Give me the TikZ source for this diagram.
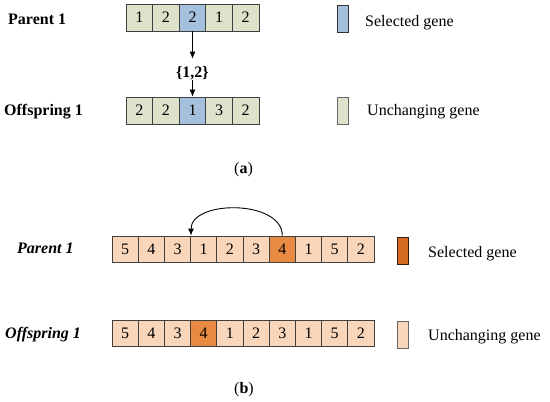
\documentclass[tikz,border=0pt]{standalone}
\usepackage{fontspec}
\setmainfont{Liberation Serif}
\usetikzlibrary{arrows.meta,positioning}
\definecolor{keepA}{HTML}{DDE2CB}
\definecolor{pickA}{HTML}{A5C0DD}
\definecolor{keepB}{HTML}{F9D6BA}
\definecolor{pickB}{HTML}{E98A43}
\definecolor{legB}{HTML}{D36C20}
\definecolor{edge}{HTML}{404040}

\begin{document}
\begin{tikzpicture}[
    x=1pt, y=1pt,
    font=\fontsize{16}{19}\selectfont,
    gene/.style={draw=edge, line width=0.8pt, inner sep=0pt, minimum width=26.6pt, minimum height=27pt},
    geneb/.style={gene, minimum width=26.2pt, minimum height=26pt},
    keepa/.style={fill=keepA}, picka/.style={fill=pickA},
    keepb/.style={fill=keepB}, pickb/.style={fill=pickB},
    legend/.style={draw=edge, line width=0.9pt, inner sep=0pt, minimum width=11pt, minimum height=27pt},
    tag/.style={anchor=base west, inner sep=0pt},
    arrow/.style={-{Latex[length=7pt,width=6pt]}, line width=0.9pt}
]
\useasboundingbox (0,0) rectangle (550,-402);
% (a)
\foreach \v/\c [count=\i] in {1/keepa,2/keepa,2/picka,1/keepa,2/keepa}
  \node[gene,\c] (pa\i) at ({126+(\i-0.5)*26.6},-17.5) {\v};
\foreach \v/\c [count=\i] in {2/keepa,2/keepa,1/picka,3/keepa,2/keepa}
  \node[gene,\c] (oa\i) at ({126+(\i-0.5)*26.6},-110.5) {\v};
\node[tag, font=\fontsize{16}{19}\selectfont\bfseries] (parenta) at (8,-24) {Parent 1};
\node[tag, font=\fontsize{16}{19}\selectfont\bfseries] (offa) at (4,-115) {Offspring 1};
\node[anchor=base, inner sep=0pt, font=\fontsize{16}{19}\selectfont\bfseries] (set) at (192.5,-77) {\{1,2\}};
\draw[arrow, shorten >=7pt] (pa3) -- (set);
\draw[arrow] (set) -- (oa3);
\node[legend, fill=pickA, draw=black!80] (lsela) at (343,-18.5) {};
\node[tag] (tsela) at (365,-26) {Selected gene};
\node[legend, fill=keepA, draw=black!60] (lkeepa) at (343,-110.5) {};
\node[tag] (tkeepa) at (367,-115) {Unchanging gene};
\node[anchor=base] (capa) at (243.5,-173) {(\textbf{a})};
% (b)
\foreach \v/\c [count=\i] in {5/keepb,4/keepb,3/keepb,1/keepb,2/keepb,3/keepb,4/pickb,1/keepb,5/keepb,2/keepb}
  \node[geneb,\c] (pb\i) at ({112+(\i-0.5)*26.2},-249) {\v};
\foreach \v/\c [count=\i] in {5/keepb,4/keepb,3/keepb,4/pickb,1/keepb,2/keepb,3/keepb,1/keepb,5/keepb,2/keepb}
  \node[geneb,\c] (ob\i) at ({112+(\i-0.5)*26.2},-333) {\v};
\node[tag, font=\fontsize{16}{19}\selectfont\bfseries\itshape] (parentb) at (17,-253.5) {Parent 1};
\node[tag, font=\fontsize{16}{19}\selectfont\bfseries\itshape] (offb) at (5,-338) {Offspring 1};
\draw[arrow] (pb7.north) .. controls +(0,36) and +(0,36) .. (pb3.north east);
\node[legend, fill=legB, draw=black!75!legB] (lselb) at (402.5,-251) {};
\node[tag] (tselb) at (428,-257) {Selected gene};
\node[legend, fill=keepB, draw=black!60] (lkeepb) at (402.5,-334.5) {};
\node[tag] (tkeepb) at (428,-340.5) {Unchanging gene};
\node[anchor=base] (capb) at (244,-393) {(\textbf{b})};
\end{tikzpicture}
\end{document}
